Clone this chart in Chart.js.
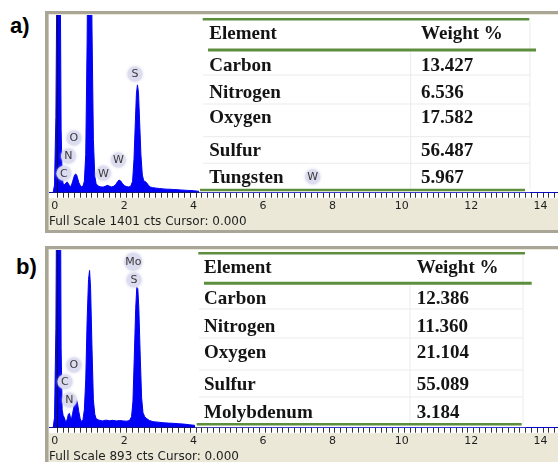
<!DOCTYPE html>
<html>
<head>
<meta charset="utf-8">
<script src="https://cdn.jsdelivr.net/npm/chart.js@4.4.1/dist/chart.umd.min.js"></script>
<style>
  html, body { margin: 0; padding: 0; background: #fff; }
  body { width: 558px; height: 462px; overflow: hidden; position: relative; }
  .tag { position: absolute; font: bold 22px "Liberation Sans", Arial, sans-serif; line-height: 22px; color: #000; }
  canvas { position: absolute; left: 45px; }
</style>
</head>
<body>
<div class="tag" style="left:10px;top:15px">a)</div>
<div class="tag" style="left:16px;top:256px">b)</div>
<canvas id="specA" width="513" height="223" style="top:11px"></canvas>
<canvas id="specB" width="513" height="223" style="top:246px"></canvas>
<script>
// ---- Spectrum a (W sample): energy in keV, counts per channel ----
const energyA = [-0.24,-0.12,-0.08,-0.04,0.00,0.04,0.08,0.11,0.14,0.17,0.20,0.23,0.26,0.29,0.32,0.35,0.38,0.41,0.44,0.47,
  0.50,0.53,0.56,0.59,0.62,0.66,0.70,0.74,0.78,0.82,0.86,0.90,0.93,0.96,1.00,1.04,1.08,1.12,1.18,1.25,
  1.32,1.38,1.44,1.50,1.56,1.62,1.68,1.74,1.78,1.83,1.88,1.94,2.00,2.06,2.12,2.17,2.21,2.25,2.28,2.31,
  2.34,2.37,2.41,2.45,2.49,2.53,2.57,2.62,2.68,2.75,2.85,2.95,3.05,3.15,3.25,3.35,3.45,3.55,3.65,3.75,
  3.85,3.95,4.05,4.15,4.30,5.0,6.0,8.0,10.0,12.0,14.43];
const countsA = [0,0,60,600,2200,3000,2000,500,120,70,62,72,80,84,70,55,48,60,85,115,
  140,148,138,110,80,58,46,52,90,300,1200,2600,3000,2600,1300,420,130,70,52,46,
  44,50,58,52,45,50,62,88,100,92,70,55,48,45,52,90,260,560,780,850,
  790,580,300,140,95,88,80,60,45,40,36,33,30,28,27,25,24,22,20,18,
  17,15,12,8,5,4,3,2,2,1,1];
const fullScaleA = 1401;
const elementsA = ['Carbon', 'Nitrogen', 'Oxygen', 'Sulfur', 'Tungsten'];
const weightsA = [13.427, 6.536, 17.582, 56.487, 5.967];
const peakTagsA = ['S', 'O', 'N', 'C', 'W', 'W', 'W'];
const peakKeVA = [2.24, 0.48, 0.32, 0.19, 1.33, 1.76, 7.36];
const peakCtsA = [936, 431, 289, 153, 153, 258, 126];

// ---- Spectrum b (Mo sample) ----
const energyB = [-0.24,-0.12,-0.08,-0.04,0.00,0.04,0.08,0.11,0.14,0.17,0.20,0.23,0.26,0.29,0.32,0.35,0.38,0.41,0.44,0.48,
  0.52,0.55,0.58,0.62,0.66,0.70,0.74,0.78,0.82,0.86,0.90,0.93,0.96,1.00,1.04,1.08,1.12,1.20,1.30,1.40,
  1.50,1.60,1.70,1.80,1.90,2.00,2.08,2.14,2.18,2.22,2.26,2.29,2.32,2.35,2.39,2.43,2.47,2.52,2.58,2.66,
  2.76,2.90,3.05,3.20,3.35,3.50,3.65,3.80,3.95,4.10,4.30,5.0,7.0,10.0,14.43];
const countsB = [0,0,50,500,1800,2500,1700,400,90,60,52,35,30,45,68,72,50,45,70,105,
  135,140,125,80,45,30,40,90,240,540,745,790,700,400,140,68,45,38,34,38,
  35,37,34,36,34,33,36,55,130,360,600,705,700,600,360,150,75,55,45,36,
  30,28,25,23,22,20,18,15,12,8,5,3,2,1,1];
const fullScaleB = 893;
const elementsB = ['Carbon', 'Nitrogen', 'Oxygen', 'Sulfur', 'Molybdenum'];
const weightsB = [12.386, 11.360, 21.104, 55.089, 3.184];
const peakTagsB = ['Mo', 'S', 'O', 'C', 'N'];
const peakKeVB = [2.19, 2.21, 0.48, 0.22, 0.35];
const peakCtsB = [834, 742, 315, 231, 139];

const tableHeaders = ['Element', 'Weight %'];
const majorTickKeV = [0, 2, 4, 6, 8, 10, 12, 14];

// Window frame of the analyser view: beige panel, grey edge, white plot field
const framePlugin = {
  id: 'specFrame',
  beforeDraw(chart) {
    const { ctx, width, height, chartArea: a } = chart;
    ctx.save();
    ctx.fillStyle = '#ffffff';
    ctx.fillRect(0, 0, width, height);
    ctx.fillStyle = '#ebe8d8';
    ctx.fillRect(0, 0, width, 219);
    ctx.fillStyle = '#a9a698';
    ctx.fillRect(0, 0, width, 3);
    ctx.fillRect(0, 0, 3.5, 222);
    ctx.fillRect(0, 219, width, 3);
    ctx.fillStyle = '#ffffff';
    ctx.fillRect(a.left, a.top, a.right - a.left, a.bottom - a.top + 5.5);
    ctx.restore();
  }
};

// Cursor marker plus the composition table laid over the high-energy side
const tablePlugin = {
  id: 'elementTable',
  afterDatasetsDraw(chart, args, o) {
    const { ctx, chartArea: a, scales: { x } } = chart;
    const g = o.geom;
    ctx.save();
    const cx = Math.round(x.getPixelForValue(0)) + 0.5;
    ctx.strokeStyle = 'rgba(0,0,60,0.95)';
    ctx.lineWidth = 1;
    ctx.beginPath(); ctx.moveTo(cx, a.top); ctx.lineTo(cx, a.bottom); ctx.stroke();

    ctx.fillStyle = '#ffffff';
    ctx.fillRect(g.left, a.top, g.right - g.left, a.bottom - a.top - 0.5);

    const seg = (x1, y1, x2, y2) => { ctx.beginPath(); ctx.moveTo(x1, y1); ctx.lineTo(x2, y2); ctx.stroke(); };
    ctx.strokeStyle = '#ebebeb';
    ctx.lineWidth = 1;
    g.rows.forEach(yy => seg(g.left + 4, yy, g.rightX, yy));
    seg(g.colX, g.head.y + 2, g.colX, g.bottom.y - 1);
    seg(g.rightX, g.top.y + 2, g.rightX, g.bottom.y - 1);

    ctx.strokeStyle = '#5d8e3c';
    [g.top, g.head, g.bottom].forEach(r => { ctx.lineWidth = r.w; seg(r.x1, r.y, r.x2, r.y); });

    ctx.font = 'bold 19px "Liberation Serif", "Times New Roman", serif';
    ctx.fillStyle = '#141414';
    ctx.textBaseline = 'alphabetic';
    ctx.textAlign = 'left';
    ctx.fillText(o.headers[0], g.nameX, g.base[0]);
    ctx.fillText(o.headers[1], g.valX, g.base[0]);
    o.names.forEach((n, i) => {
      ctx.fillText(n, g.nameX, g.base[i + 1]);
      ctx.fillText(o.values[i].toFixed(3), g.valX, g.base[i + 1]);
    });
    ctx.restore();
  }
};

// Peak identification bubbles
const tagPlugin = {
  id: 'peakTags',
  afterDatasetsDraw(chart, args, o) {
    const { ctx, scales: { x, y } } = chart;
    ctx.save();
    ctx.font = '11px "DejaVu Sans", sans-serif';
    ctx.textAlign = 'center';
    ctx.textBaseline = 'middle';
    o.labels.forEach((t, i) => {
      const px = x.getPixelForValue(o.keV[i]);
      const py = y.getPixelForValue(o.cts[i]);
      const r = t.length > 1 ? 9 : 7.5;
      ctx.shadowColor = 'rgba(200,200,230,0.9)';
      ctx.shadowBlur = 3;
      ctx.fillStyle = 'rgba(220,220,240,0.92)';
      ctx.beginPath(); ctx.arc(px, py, r, 0, Math.PI * 2); ctx.fill();
      ctx.shadowBlur = 0;
      ctx.fillStyle = '#3a3a3a';
      ctx.fillText(t, px, py + 0.5);
    });
    ctx.restore();
  }
};

function drawSpectrum(id, energy, counts, fullScale, caption, names, values, tags, tagKeV, tagCts, geom) {
  return new Chart(document.getElementById(id), {
    type: 'line',
    data: {
      datasets: [{
        data: energy.map((e, i) => ({ x: e, y: counts[i] })),
        borderColor: '#0000f5',
        backgroundColor: '#0000f5',
        borderWidth: 1,
        fill: 'origin',
        pointRadius: 0,
        tension: 0
      }]
    },
    options: {
      responsive: false,
      animation: false,
      devicePixelRatio: 1,
      layout: { padding: { left: 4, top: 4, right: 0, bottom: 4.7 } },
      plugins: {
        legend: { display: false },
        tooltip: { enabled: false },
        elementTable: { headers: tableHeaders, names: names, values: values, geom: geom },
        peakTags: { labels: tags, keV: tagKeV, cts: tagCts }
      },
      scales: {
        x: {
          type: 'linear',
          min: -0.239,
          max: 14.43,
          afterBuildTicks(scale) {
            const t = [];
            for (let k = 0; k <= 86; k++) t.push({ value: k / 6 });
            scale.ticks = t;
          },
          ticks: {
            autoSkip: false,
            maxRotation: 0,
            minRotation: 0,
            padding: 2,
            labelOffset: -2.5,
            color: '#1e1e1e',
            font: { family: 'DejaVu Sans', size: 11 },
            callback: (v) => majorTickKeV.includes(v) ? String(v) : ''
          },
          grid: { display: true, drawOnChartArea: false, drawTicks: true, tickLength: 5, color: '#333', lineWidth: 1 },
          border: { display: true, color: '#222', width: 1 },
          title: {
            display: true,
            text: caption,
            align: 'start',
            color: '#1e1e1e',
            font: { family: 'DejaVu Sans', size: 12 },
            padding: { top: 0, bottom: 0 }
          }
        },
        y: { display: false, min: 0, max: fullScale }
      }
    },
    plugins: [framePlugin, tablePlugin, tagPlugin]
  });
}

drawSpectrum('specA', energyA, countsA, fullScaleA, 'Full Scale ' + fullScaleA + ' cts Cursor: 0.000',
  elementsA, weightsA, peakTagsA, peakKeVA, peakCtsA, {
    left: 154, right: 485,
    top: { y: 8.3, x1: 157.7, x2: 484.3, w: 2.5 },
    head: { y: 39, x1: 163, x2: 491, w: 3 },
    bottom: { y: 179, x1: 155, x2: 480, w: 2.5 },
    nameX: 164.3, valX: 376,
    base: [28.3, 59.7, 87, 112.3, 144.7, 171.7],
    rows: [64, 93, 125.7, 152.3],
    colX: 365.7, rightX: 485
  });

drawSpectrum('specB', energyB, countsB, fullScaleB, 'Full Scale ' + fullScaleB + ' cts Cursor: 0.000',
  elementsB, weightsB, peakTagsB, peakKeVB, peakCtsB, {
    left: 150, right: 481,
    top: { y: 7.3, x1: 153.3, x2: 480, w: 2.5 },
    head: { y: 37.3, x1: 159, x2: 486.7, w: 3 },
    bottom: { y: 178.3, x1: 151.7, x2: 476.7, w: 2.5 },
    nameX: 159, valX: 371.7,
    base: [27.3, 58, 86.3, 112.3, 144, 171.7],
    rows: [63, 92, 124, 151],
    colX: 365, rightX: 478
  });
</script>
</body>
</html>
